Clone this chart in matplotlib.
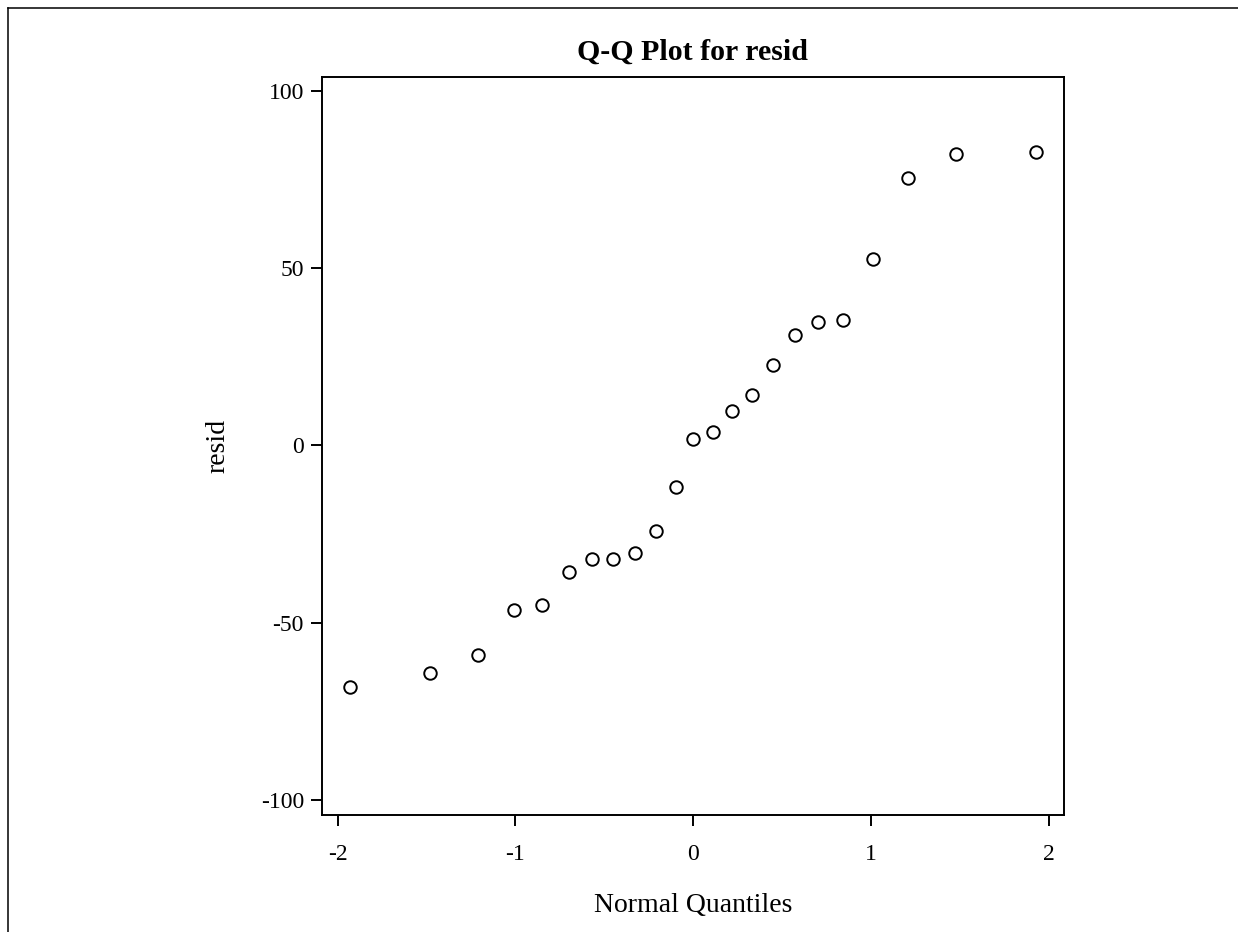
import matplotlib
matplotlib.use("Agg")
import matplotlib.pyplot as plt
from matplotlib.lines import Line2D

plt.rcParams['font.family'] = ['Liberation Serif', 'DejaVu Serif']
plt.rcParams['axes.unicode_minus'] = False

# normal quantiles (x) and residuals (y)
quantiles = [-1.93, -1.48, -1.21, -1.01, -0.85, -0.70, -0.57, -0.45, -0.33,
             -0.21, -0.10, 0.00, 0.11, 0.22, 0.33, 0.45, 0.57, 0.70, 0.84,
             1.01, 1.21, 1.48, 1.93]
resid = [-68.2, -64.3, -59.0, -46.3, -44.9, -35.8, -32.0, -32.0, -30.3,
         -24.1, -11.7, 1.7, 3.8, 9.8, 14.1, 22.7, 31.1, 34.7, 35.3,
         52.5, 75.3, 82.1, 82.7]

x_ticks = [-2, -1, 0, 1, 2]
y_ticks = [-100, -50, 0, 50, 100]

fig = plt.figure(figsize=(12.38, 9.32), dpi=100)
ax = fig.add_axes([0.2601, 0.1252, 0.5991, 0.7927])

ax.plot(quantiles, resid, 'o', linestyle='none', markersize=9,
        markerfacecolor='none', markeredgecolor='black', markeredgewidth=1.4)

ax.set_xlim(-2.088, 2.083)
ax.set_ylim(-104.3, 104.0)
ax.set_xticks(x_ticks)
ax.set_yticks(y_ticks)
ax.tick_params(direction='out', length=8, width=1.4, labelsize=17,
               color='black')
ax.tick_params(axis='x', pad=13)
ax.tick_params(axis='y', pad=5)
for spine in ax.spines.values():
    spine.set_linewidth(1.4)

ax.set_title('Q-Q Plot for resid', fontsize=21.5, fontweight='bold', pad=12)
ax.set_xlabel('Normal Quantiles', fontsize=20, labelpad=20)
ax.set_ylabel('resid', fontsize=20, labelpad=22)

# outer frame (right and bottom fall outside the image)
fig.add_artist(Line2D([7.7 / 1238, 1.0], [1 - 8.3 / 932, 1 - 8.3 / 932],
                      transform=fig.transFigure, color='black', lw=1.1))
fig.add_artist(Line2D([7.7 / 1238, 7.7 / 1238], [0.0, 1 - 8.3 / 932],
                      transform=fig.transFigure, color='black', lw=1.1))

fig.savefig('out.png', dpi=100)
